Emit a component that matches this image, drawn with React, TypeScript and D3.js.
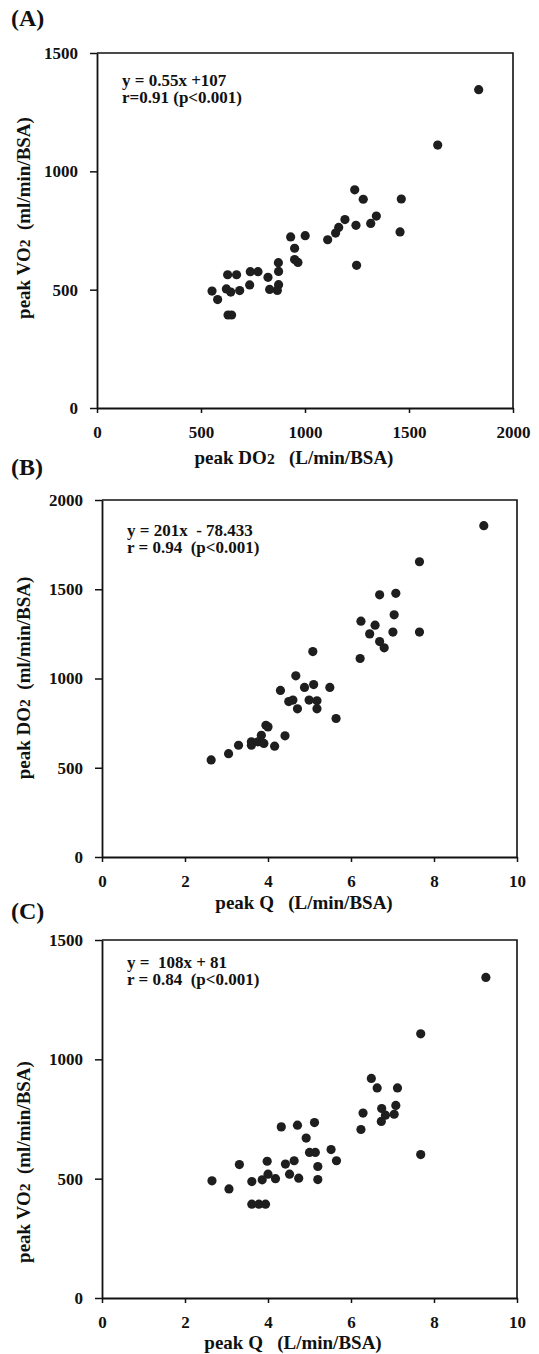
import { axisBottom, axisLeft, scaleLinear, select } from 'd3';
import React, { useEffect, useRef } from 'react';

// (A) peak DO2 vs peak VO2
const peakDO2_A = [1835, 1638, 1239, 1280, 1463, 1343, 1316, 1245, 1192, 1162, 1147, 1109, 1457, 1248, 1001, 931, 950, 950, 966, 872, 873, 873, 867, 822, 830, 774, 737, 734, 671, 628, 686, 622, 643, 553, 580, 630, 647];
const peakVO2_A = [1345, 1111, 922, 882, 883, 811, 780, 772, 796, 763, 739, 711, 744, 603, 728, 723, 675, 627, 615, 614, 577, 521, 497, 552, 501, 576, 576, 520, 563, 563, 496, 503, 490, 494, 458, 393, 393];

// (B) peak Q vs peak DO2
const peakQ_B = [9.2, 7.65, 6.69, 7.08, 7.04, 6.24, 6.58, 6.45, 7.01, 7.65, 6.69, 6.8, 6.22, 5.08, 4.67, 5.1, 4.88, 5.49, 4.3, 4.5, 4.6, 4.99, 5.18, 4.71, 5.18, 5.64, 3.95, 4.0, 3.84, 4.41, 4.16, 3.6, 3.6, 3.76, 3.9, 3.29, 3.05, 2.63];
const peakDO2_B = [1856, 1654, 1469, 1477, 1357, 1321, 1299, 1250, 1260, 1260, 1207, 1172, 1112, 1151, 1015, 966, 950, 950, 933, 871, 879, 879, 875, 830, 830, 776, 738, 729, 682, 679, 621, 645, 626, 645, 636, 626, 579, 544];

// (C) peak Q vs peak VO2
const peakQ_C = [9.25, 7.68, 6.49, 6.63, 7.12, 7.08, 6.74, 6.29, 6.83, 7.04, 6.73, 6.24, 7.68, 4.32, 4.71, 5.12, 4.92, 5.52, 5.0, 5.14, 5.65, 4.63, 4.42, 5.2, 3.98, 3.31, 4.0, 4.18, 3.86, 4.52, 4.74, 5.2, 3.61, 2.65, 3.06, 3.61, 3.78, 3.94];
const peakVO2_C = [1343, 1107, 920, 880, 880, 807, 794, 775, 766, 770, 740, 706, 601, 717, 724, 735, 670, 622, 610, 610, 575, 575, 561, 551, 573, 559, 519, 500, 495, 519, 502, 496, 488, 491, 457, 393, 393, 393];

const ticksDO2x = [0, 500, 1000, 1500, 2000];
const ticksQ = [0, 2, 4, 6, 8, 10];
const ticksVO2 = [0, 500, 1000, 1500];
const ticksDO2y = [0, 500, 1000, 1500, 2000];

const FONT = '"Liberation Serif", "Times New Roman", serif';

const panels = [
    {
        label: '(A)', labelY: 26,
        xs: peakDO2_A, ys: peakVO2_A,
        xDomain: [0, 2000], yDomain: [0, 1500], xTicks: ticksDO2x, yTicks: ticksVO2,
        left: 97, right: 513, top: 53, bottom: 408,
        eq: ['y = 0.55x +107', 'r=0.91 (p<0.001)'], eqY: 86,
        xTitle: ['peak DO', '2', '   (L/min/BSA)'], xTitleX: 294, xTitleY: 464,
        yTitle: ['peak VO', '2', '  (ml/min/BSA)'], yTitleY: 218,
    },
    {
        label: '(B)', labelY: 475,
        xs: peakQ_B, ys: peakDO2_B,
        xDomain: [0, 10], yDomain: [0, 2000], xTicks: ticksQ, yTicks: ticksDO2y,
        left: 102, right: 517, top: 500, bottom: 857,
        eq: ['y = 201x  - 78.433', 'r = 0.94  (p<0.001)'], eqY: 536,
        xTitle: ['peak Q   (L/min/BSA)'], xTitleX: 304, xTitleY: 909,
        yTitle: ['peak DO', '2', '  (ml/min/BSA)'], yTitleY: 678,
    },
    {
        label: '(C)', labelY: 919,
        xs: peakQ_C, ys: peakVO2_C,
        xDomain: [0, 10], yDomain: [0, 1500], xTicks: ticksQ, yTicks: ticksVO2,
        left: 102, right: 517, top: 940, bottom: 1298,
        eq: ['y =  108x + 81', 'r = 0.84  (p<0.001)'], eqY: 968,
        xTitle: ['peak Q   (L/min/BSA)'], xTitleX: 293, xTitleY: 1349,
        yTitle: ['peak VO', '2', '  (ml/min/BSA)'], yTitleY: 1162,
    },
];

const addParts = (text, parts) => {
    parts.forEach((p) => {
        text.append('tspan')
            .attr('font-size', p === '2' ? '0.82em' : null)
            .text(p);
    });
};

const App = () => {

    const svgRef = useRef(null);

    useEffect(() => {
        const svg = select(svgRef.current);
        svg.selectAll('*').remove();

        panels.forEach((p) => {
            const xScale = scaleLinear().domain(p.xDomain).range([p.left, p.right]);
            const yScale = scaleLinear().domain(p.yDomain).range([p.bottom, p.top]);

            const g = svg.append('g');

            // frame (top and right)
            g.append('path')
                .attr('d', `M${p.left},${p.top}H${p.right}V${p.bottom}`)
                .attr('fill', 'none')
                .attr('stroke', '#111')
                .attr('stroke-width', 1.6);

            const xAxis = g.append('g')
                .attr('transform', `translate(0,${p.bottom})`)
                .call(axisBottom(xScale).tickValues(p.xTicks).tickFormat(d => String(d))
                    .tickSizeInner(5).tickSizeOuter(0).tickPadding(13));
            const yAxis = g.append('g')
                .attr('transform', `translate(${p.left},0)`)
                .call(axisLeft(yScale).tickValues(p.yTicks).tickFormat(d => String(d))
                    .tickSizeInner(7).tickSizeOuter(0).tickPadding(12));

            [xAxis, yAxis].forEach((ax) => {
                ax.selectAll('path').attr('stroke', '#111').attr('stroke-width', 1.8);
                ax.selectAll('line').attr('stroke', '#111').attr('stroke-width', 1.5);
                ax.selectAll('text')
                    .attr('fill', '#111')
                    .attr('font-family', FONT)
                    .attr('font-weight', 'bold')
                    .attr('font-size', 17);
            });

            g.selectAll('circle')
                .data(p.xs.map((x, i) => [x, p.ys[i]]))
                .join('circle')
                .attr('cx', d => xScale(d[0]))
                .attr('cy', d => yScale(d[1]))
                .attr('r', 4.6)
                .attr('fill', '#1e1e1e');

            // regression text
            p.eq.forEach((line, i) => {
                g.append('text')
                    .attr('x', p.left + 25)
                    .attr('y', p.eqY + i * 17)
                    .attr('font-family', FONT)
                    .attr('font-weight', 'bold')
                    .attr('font-size', 17)
                    .attr('fill', '#111')
                    .style('white-space', 'pre')
                    .text(line);
            });

            // panel label
            g.append('text')
                .attr('x', 11)
                .attr('y', p.labelY)
                .attr('font-family', FONT)
                .attr('font-weight', 'bold')
                .attr('font-size', 24)
                .attr('fill', '#111')
                .text(p.label);

            const xt = g.append('text')
                .attr('x', p.xTitleX)
                .attr('y', p.xTitleY)
                .attr('text-anchor', 'middle')
                .attr('font-family', FONT)
                .attr('font-weight', 'bold')
                .attr('font-size', 19)
                .attr('fill', '#111')
                .style('white-space', 'pre');
            addParts(xt, p.xTitle);

            const yt = g.append('text')
                .attr('transform', `translate(30,${p.yTitleY}) rotate(-90)`)
                .attr('text-anchor', 'middle')
                .attr('font-family', FONT)
                .attr('font-weight', 'bold')
                .attr('font-size', 19)
                .attr('fill', '#111')
                .style('white-space', 'pre');
            addParts(yt, p.yTitle);
        });
    }, []);

    return (
        <svg ref={svgRef} width={539} height={1354}
            style={{ position: 'absolute', left: 0, top: 0, background: '#fff' }}>
        </svg>
    );
}

export default App;
